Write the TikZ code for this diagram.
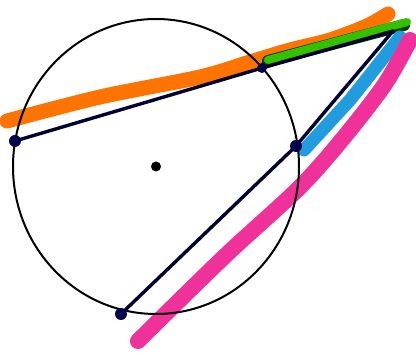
\documentclass[tikz,border=0pt]{standalone}
\usepackage{tikz}

\begin{document}
\begin{tikzpicture}[x=1pt, y=-1pt,
  pen/.style={line width=3.4pt, draw=black!80!blue, line cap=round, line join=round},
  marker/.style={line width=#1, line cap=round, line join=round},
  pt/.style={circle, fill=black!70!blue, inner sep=0pt, minimum size=12pt}]
  \useasboundingbox (0,0) rectangle (416,355);
  % points
  \coordinate (O) at (156,166.5);
  \coordinate (P) at (393,31);
  \coordinate (A) at (15,141);
  \coordinate (B) at (262,68);
  \coordinate (C) at (296,146);
  \coordinate (D) at (121,314);
  % highlighter strokes
  \draw[marker=15pt, orange!90!red] plot[smooth] coordinates
    {(7,121) (100,97) (200,77) (250,62) (290,50) (330,40) (367,26) (388,14)};
  \draw[marker=12pt, black!75!green] (268,61) -- (404,25);
  \draw[marker=8pt, green!70!black!80!yellow] (268,60) -- (407,22);
  \draw[marker=13pt, cyan!80!blue!90] (304,150) -- (350,100) -- (400,37);
  \draw[marker=16pt, magenta!75!pink] plot[smooth] coordinates
    {(138,341) (225,256) (300,187) (345,136) (385,84) (410,40)};
  % circle
  \draw[line width=2pt] (O) ellipse [x radius=143, y radius=147.5];
  % secants
  \draw[pen] (A) -- (B) -- (P);
  \draw[pen] (D) -- (C) -- (P);
  % dots
  \node[pt] (a) at (A) {};
  \node[pt, minimum size=10pt] (b) at (B) {};
  \node[pt] (c) at (C) {};
  \node[pt] (d) at (D) {};
  \fill (O) circle (5pt);
\end{tikzpicture}
\end{document}
